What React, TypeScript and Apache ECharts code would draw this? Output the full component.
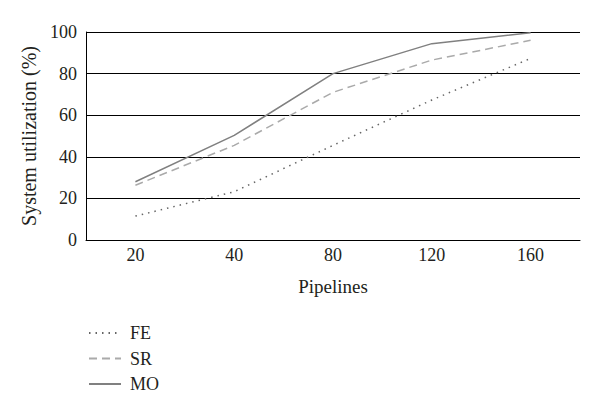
import React, { useEffect, useRef } from "react";
import * as echarts from "echarts";

const categories = ["20", "40", "80", "120", "160"];
const feValues = [11.5, 23.2, 45.5, 67.3, 87.3];
const srValues = [26.3, 45.5, 71, 86.5, 96];
const moValues = [28, 50.3, 80, 94.4, 99.6];

const FONT = "Liberation Serif";
const TXT = "#231f20";

export default function App() {
  const ref = useRef<HTMLDivElement>(null);
  useEffect(() => {
    if (!ref.current) return;
    const chart = echarts.init(ref.current, undefined, { renderer: "svg" });
    chart.setOption({
      animation: false,
      backgroundColor: "#fff",
      textStyle: { fontFamily: FONT },
      grid: { left: 86, right: 20, top: 32, bottom: 174 },
      legend: {
        orient: "vertical",
        left: 83,
        top: 319,
        itemWidth: 32,
        itemHeight: 14,
        itemGap: 7.5,
        itemStyle: { opacity: 0 },
        textStyle: { fontFamily: FONT, fontSize: 18, color: TXT, padding: [0, 0, 0, 4] },
        data: ["FE", "SR", "MO"],
      },
      xAxis: {
        type: "category",
        data: categories,
        boundaryGap: true,
        name: "Pipelines",
        nameLocation: "middle",
        nameGap: 37,
        nameTextStyle: { fontFamily: FONT, fontSize: 19, color: TXT },
        axisLine: { lineStyle: { color: "#000", width: 1 } },
        axisTick: { show: false },
        axisLabel: { fontFamily: FONT, fontSize: 18, color: TXT, margin: 6 },
      },
      yAxis: {
        type: "value",
        min: 0,
        max: 100,
        interval: 20,
        name: "System utilization (%)",
        nameLocation: "middle",
        nameGap: 46,
        nameTextStyle: { fontFamily: FONT, fontSize: 20, color: TXT },
        axisLine: { show: true, lineStyle: { color: "#000", width: 1 } },
        axisTick: { show: false },
        axisLabel: { fontFamily: FONT, fontSize: 18, color: TXT, margin: 9 },
        splitLine: { lineStyle: { color: "#000", width: 1 } },
      },
      series: [
        {
          name: "FE",
          type: "line",
          data: feValues,
          symbol: "none",
          itemStyle: { color: "#666" },
          lineStyle: { color: "#666", width: 1.5, type: [1.5, 5] },
        },
        {
          name: "SR",
          type: "line",
          data: srValues,
          symbol: "none",
          itemStyle: { color: "#aaa" },
          lineStyle: { color: "#aaa", width: 1.5, type: [8, 5] },
        },
        {
          name: "MO",
          type: "line",
          data: moValues,
          symbol: "none",
          itemStyle: { color: "#808080" },
          lineStyle: { color: "#808080", width: 1.5, type: "solid" },
        },
      ],
    });
    return () => chart.dispose();
  }, []);
  return <div ref={ref} style={{ width: 600, height: 414, position: "absolute", left: 0, top: 0 }} />;
}
